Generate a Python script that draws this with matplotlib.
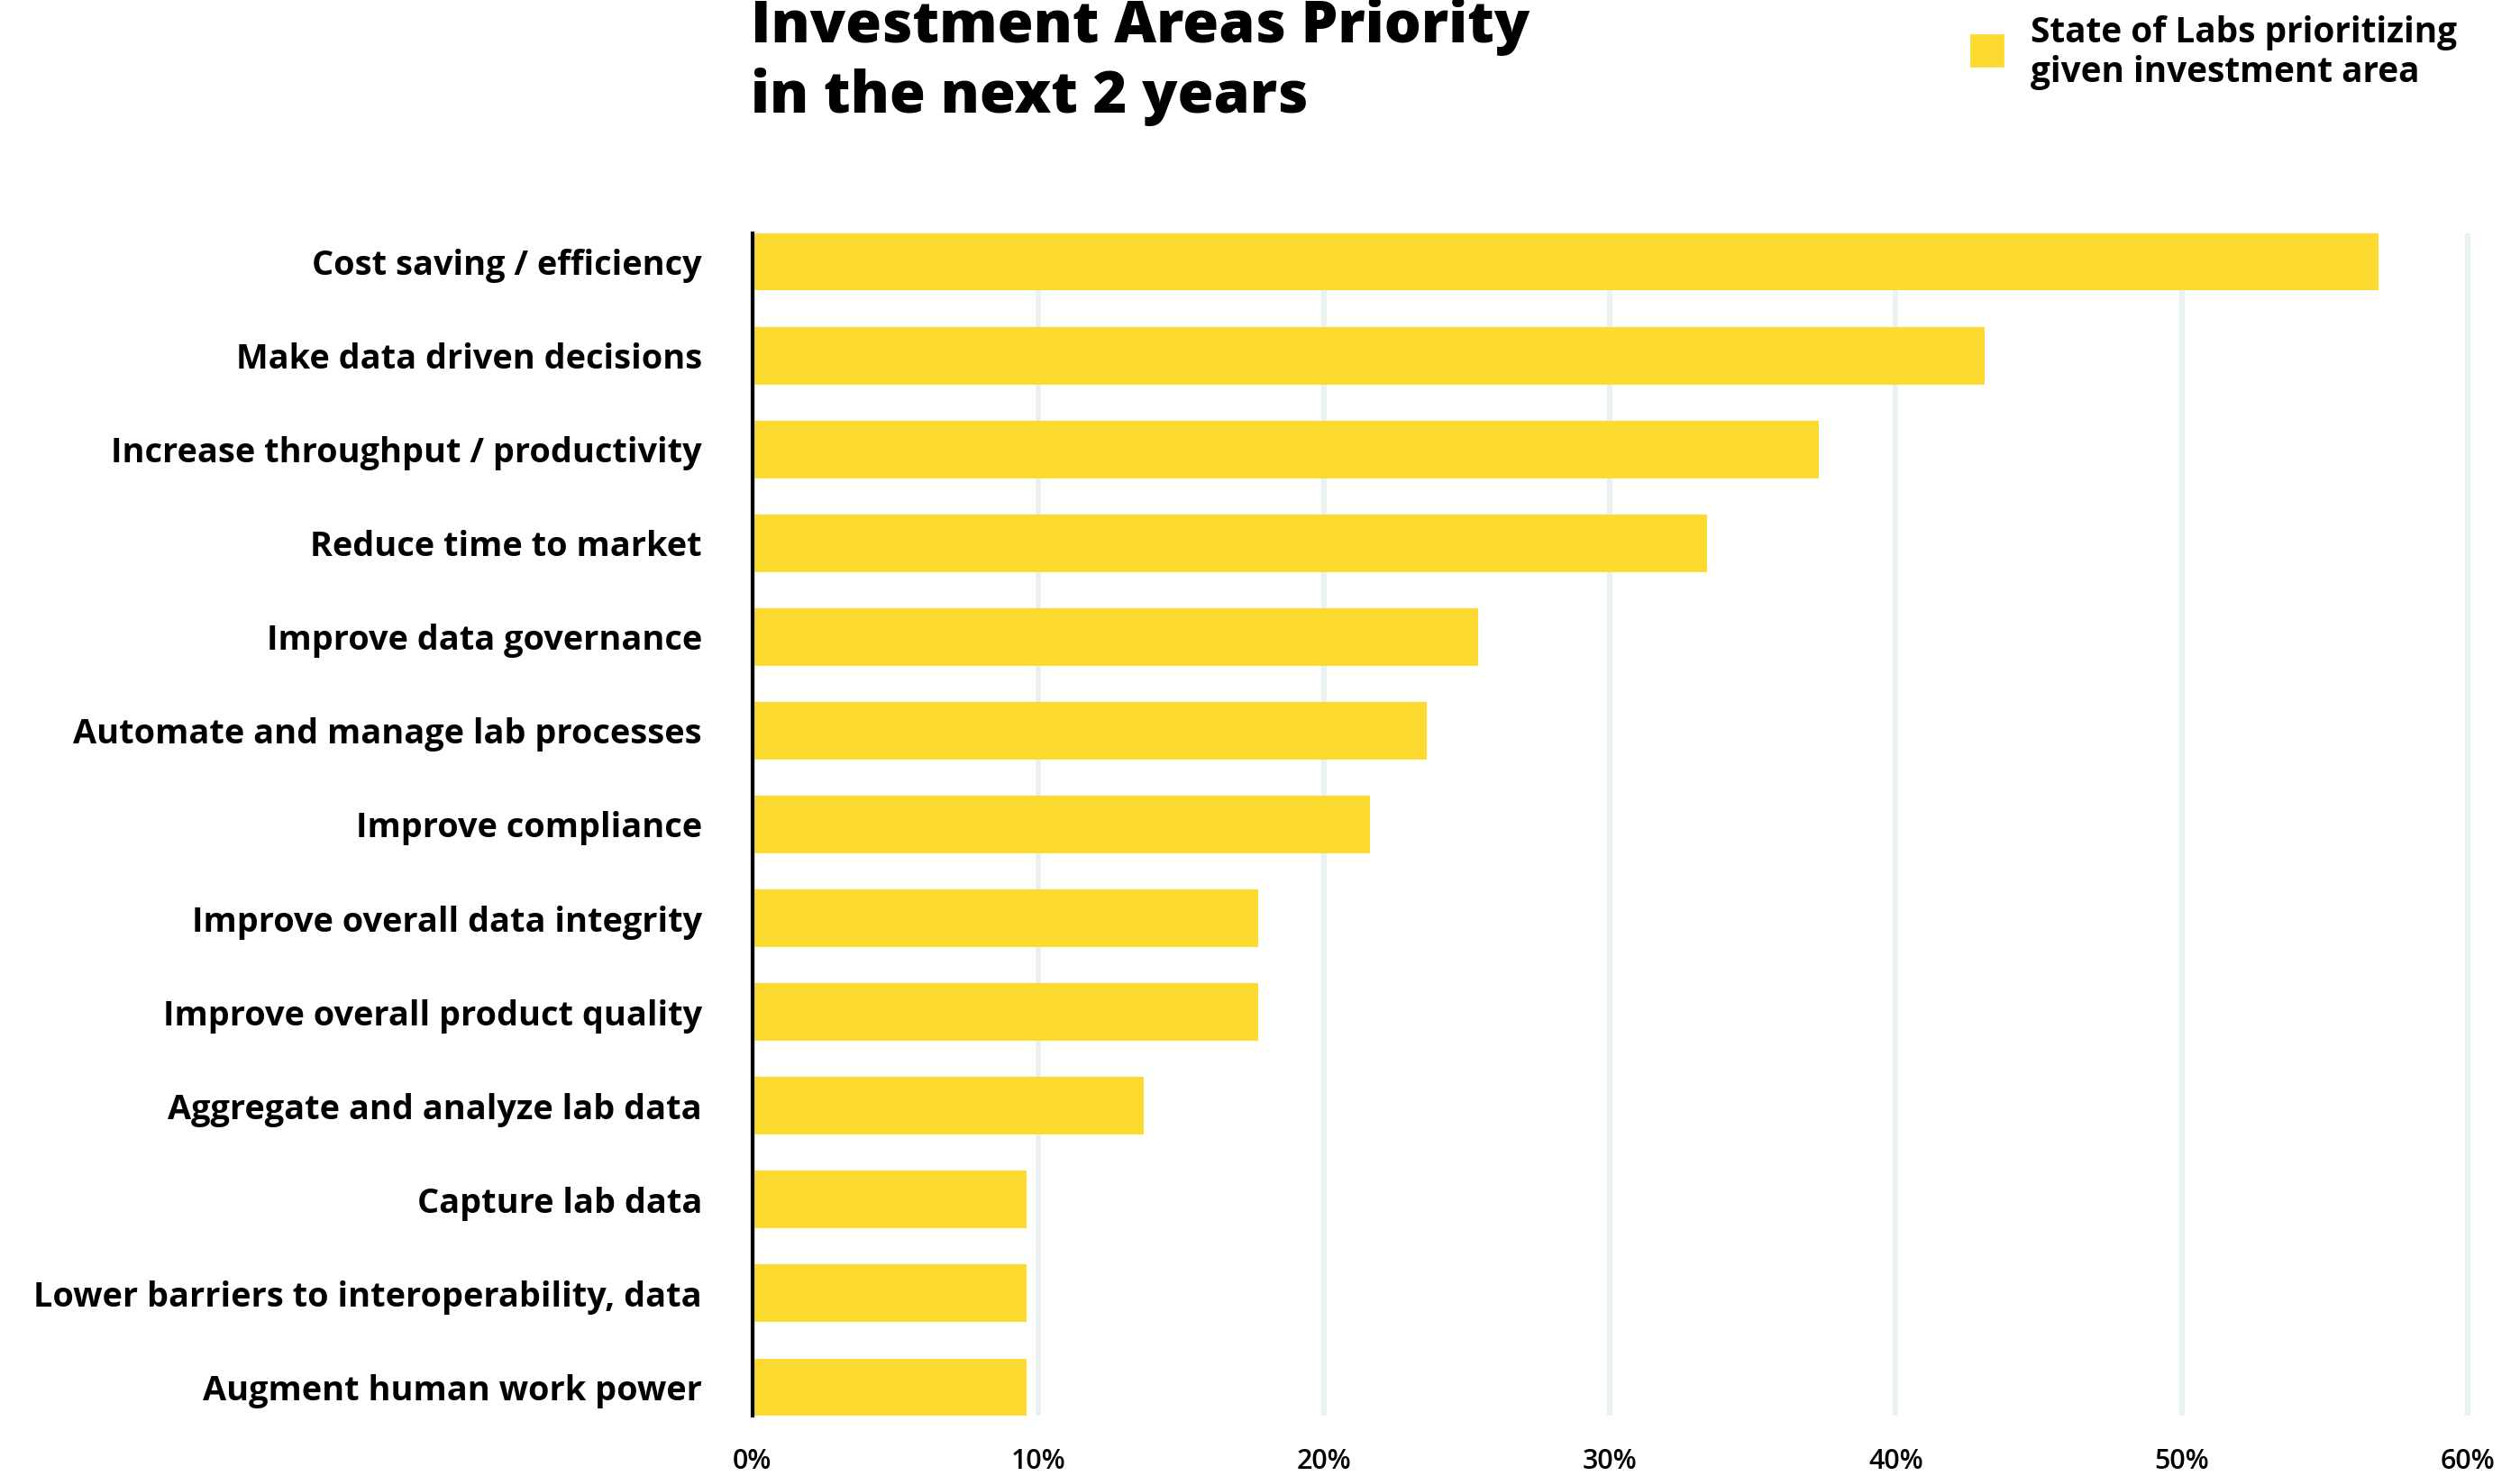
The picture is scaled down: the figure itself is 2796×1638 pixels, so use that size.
import matplotlib
matplotlib.use('Agg')
import matplotlib.pyplot as plt
from matplotlib.patches import Rectangle

# ---- data ----
categories = [
    "Cost saving / efficiency",
    "Make data driven decisions",
    "Increase throughput / productivity",
    "Reduce time to market",
    "Improve data governance",
    "Automate and manage lab processes",
    "Improve compliance",
    "Improve overall data integrity",
    "Improve overall product quality",
    "Aggregate and analyze lab data",
    "Capture lab data",
    "Lower barriers to interoperability, data",
    "Augment human work power",
]
values = [56.9, 43.1, 37.3, 33.4, 25.4, 23.6, 21.6, 17.7, 17.7, 13.7, 9.6, 9.6, 9.6]
xticks = [0, 10, 20, 30, 40, 50, 60]
xtick_labels = ["0%", "10%", "20%", "30%", "40%", "50%", "60%"]
title_lines = ["Investment Areas Priority", "in the next 2 years"]
legend_lines = ["State of Labs prioritizing", "given investment area"]

YELLOW = "#FDDA2F"
GRID = "#EBF2F2"
INK = "#000000"

W, H, DPI = 2796, 1638, 200
fig = plt.figure(figsize=(W / DPI, H / DPI), dpi=DPI)
fig.patch.set_facecolor("white")


def fx(px):
    return px / W


def fy(py):
    return 1 - py / H


x0_px = 834.5
unit_px = 31.72  # pixels per 1 %
xmax = 60.25
top_px, bot_px = 259, 1571
ax = fig.add_axes([fx(x0_px), fy(bot_px), xmax * unit_px / W, (bot_px - top_px) / H])

ypos = list(range(len(categories)))
ax.barh(ypos, values, height=0.61, color=YELLOW, zorder=2)
ax.set_ylim(len(categories) - 1 + 0.305, -0.305)
ax.set_xlim(0, xmax)
ax.set_yticks(ypos)
ax.set_yticklabels(categories, fontfamily="Open Sans", fontweight="bold",
                   fontsize=12, color=INK)
ax.set_xticks(xticks)
ax.set_xticklabels(xtick_labels, fontfamily="Open Sans", fontweight="semibold",
                   fontsize=9, color=INK)
ax.tick_params(axis="y", length=0, pad=20)
ax.tick_params(axis="x", length=0, pad=13)
ax.grid(axis="x", color=GRID, linewidth=2.2, zorder=0)
ax.grid(axis="y", visible=False)
ax.set_axisbelow(True)
for s in ["top", "right", "bottom"]:
    ax.spines[s].set_visible(False)
ax.spines["left"].set_color(INK)
ax.spines["left"].set_linewidth(1.5)
ax.spines["left"].set_zorder(3)

# title
t1 = fig.text(fx(833), fy(47), title_lines[0], fontfamily="Open Sans",
              fontweight="heavy", fontsize=26, color=INK, va="baseline", ha="left")
t2 = fig.text(fx(833), fy(125), title_lines[1], fontfamily="Open Sans",
              fontweight="heavy", fontsize=26, color=INK, va="baseline", ha="left")

# legend
fig.patches.append(Rectangle((fx(2187), fy(73)), 35 / W, 34 / H,
                             transform=fig.transFigure, color=YELLOW, zorder=2))
l1 = fig.text(fx(2253), fy(47), legend_lines[0], fontfamily="Open Sans",
              fontweight="bold", fontsize=13, color=INK, va="baseline", ha="left")
l2 = fig.text(fx(2253), fy(91), legend_lines[1], fontfamily="Open Sans",
              fontweight="bold", fontsize=13, color=INK, va="baseline", ha="left")

# fit text sizes to the measured widths of the reference
fig.canvas.draw()
r = fig.canvas.get_renderer()


def scale_to(objs, ref, target):
    w = ref.get_window_extent(r).width
    f = target / w
    for o in objs:
        o.set_fontsize(o.get_fontsize() * f)


ylabels = ax.get_yticklabels()
longest = max(ylabels, key=lambda t: len(t.get_text()))
scale_to(ylabels, longest, 742)
scale_to([t1, t2], t1, 863)
scale_to([l1, l2], l1, 475)
xl = ax.get_xticklabels()
scale_to(xl, xl[-1], 61)

fig.savefig("out.png", dpi=DPI, facecolor="white")
